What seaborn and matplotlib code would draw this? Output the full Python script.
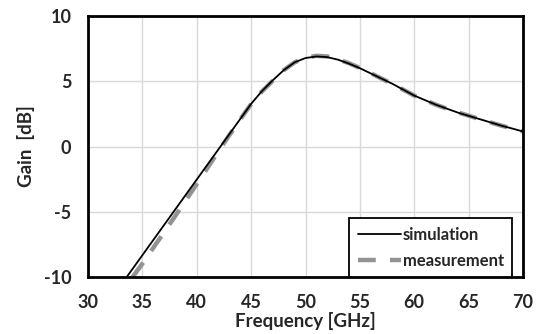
import numpy as np
import pandas as pd
import matplotlib
matplotlib.use("Agg")
import matplotlib.pyplot as plt
import seaborn as sns

# simulated gain [dB] vs frequency [GHz]
sim_freq = [33.56, 34, 35, 36, 37, 38, 39, 40, 41, 42, 43, 44, 45, 46, 47, 48, 49,
            50, 51, 52, 53, 54, 55, 56, 57, 58, 59, 60, 61, 62, 63, 64, 65, 66,
            67, 68, 69, 70]
sim_gain = [-10.0, -9.49, -8.33, -7.17, -6.01, -4.85, -3.69, -2.53, -1.37, -0.21,
            0.95, 2.11, 3.27, 4.25, 5.08, 5.85, 6.45, 6.78, 6.9, 6.85, 6.65, 6.35,
            6.0, 5.6, 5.2, 4.8, 4.35, 3.9, 3.55, 3.2, 2.9, 2.6, 2.35, 2.1, 1.85,
            1.6, 1.38, 1.15]

# measured gain
meas_freq = [34.1, 35, 36, 37, 38, 39, 40, 41, 42, 43, 44, 45, 46, 47, 48, 49,
             50, 51, 52, 53, 54, 55, 56, 57, 58, 59, 60, 61, 62, 63, 64, 65, 66,
             67, 68, 69, 70]
meas_gain = [-10.0, -8.98, -7.77, -6.56, -5.35, -4.11, -2.88, -1.62, -0.36, 0.87,
             2.08, 3.25, 4.22, 5.05, 5.85, 6.45, 6.8, 6.95, 6.9, 6.68, 6.38, 6.02,
             5.62, 5.2, 4.8, 4.35, 3.9, 3.55, 3.2, 2.9, 2.62, 2.36, 2.1, 1.85,
             1.6, 1.38, 1.15]

x_ticks = [30, 35, 40, 45, 50, 55, 60, 65, 70]
y_ticks = [-10, -5, 0, 5, 10]

sim = pd.DataFrame({"freq": sim_freq, "gain": sim_gain})
meas = pd.DataFrame({"freq": meas_freq, "gain": meas_gain})

sns.set_style("white")
plt.rcParams["font.family"] = ["Lato", "DejaVu Sans"]
plt.rcParams["font.weight"] = "bold"
plt.rcParams["axes.unicode_minus"] = False

fig = plt.figure(figsize=(5.43, 3.34), dpi=100)
ax = fig.add_axes([88 / 543, 57 / 334, 435 / 543, 261 / 334])

sns.lineplot(data=meas, x="freq", y="gain", ax=ax, color="#939393", lw=3.2,
             dashes=False, label="measurement", zorder=2)
ax.lines[-1].set_dashes([4.0, 3.2])
sns.lineplot(data=sim, x="freq", y="gain", ax=ax, color="black", lw=1.3,
             label="simulation", zorder=3)

ax.set_xlim(30, 70)
ax.set_ylim(-10, 10)
ax.set_xticks(x_ticks)
ax.set_yticks(y_ticks)
ax.grid(True, color="#d9d9d9", lw=1)
ax.set_axisbelow(True)
ax.tick_params(axis="both", length=0, labelsize=13)
ax.tick_params(axis="x", pad=12)
ax.tick_params(axis="y", pad=12)
for lab in ax.get_xticklabels() + ax.get_yticklabels():
    lab.set_fontweight("bold")
for s in ax.spines.values():
    s.set_visible(True)
    s.set_color("black")
    s.set_linewidth(2)

ax.set_xlabel("Frequency [GHz]", fontsize=13.5, fontweight="bold", labelpad=1)
ax.set_ylabel("Gain  [dB]", fontsize=13.5, fontweight="bold", labelpad=6)

handles, labels = ax.get_legend_handles_labels()
order = [labels.index("simulation"), labels.index("measurement")]
leg = ax.legend([handles[i] for i in order], [labels[i] for i in order],
                loc="lower right", bbox_to_anchor=(0.975, 0.0), borderaxespad=0,
                fancybox=False, framealpha=1, edgecolor="black",
                prop={"weight": "bold", "size": 12}, handlelength=2.6,
                handletextpad=0.1, labelspacing=0.6, borderpad=0.5)
leg.get_frame().set_linewidth(1.3)

fig.savefig("out.png", dpi=100)
